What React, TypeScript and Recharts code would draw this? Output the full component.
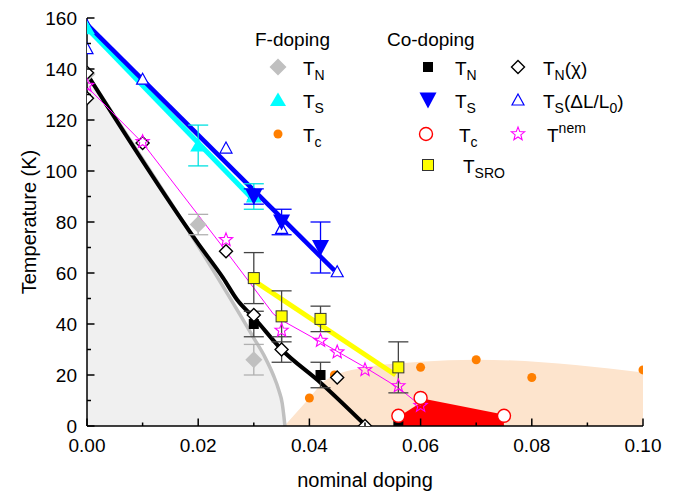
import React from "react";
import { ComposedChart, XAxis, YAxis, Line, Area, Scatter, ErrorBar } from "recharts";

const FONT = "'Liberation Sans', Arial, Helvetica, sans-serif";

const X_TICKS = [0, 0.01, 0.02, 0.03, 0.04, 0.05, 0.06, 0.07, 0.08, 0.09, 0.1];
const Y_TICKS = [0, 10, 20, 30, 40, 50, 60, 70, 80, 90, 100, 110, 120, 130, 140, 150, 160];

// F-doping
const F_TN = [{ x: 0, y: 138, e: 0 }, { x: 0.02, y: 79, e: 4 }, { x: 0.03, y: 26, e: 6 }];
const F_TS = [{ x: 0, y: 156, e: 0 }, { x: 0.02, y: 110, e: 8 }, { x: 0.03, y: 90, e: 5 }];
const F_TC = [
  { x: 0.04, y: 11 }, { x: 0.0445, y: 20 }, { x: 0.06, y: 23 },
  { x: 0.07, y: 26 }, { x: 0.08, y: 19 }, { x: 0.1, y: 22 },
];

// Co-doping
const CO_TN = [{ x: 0.03, y: 40, e: 5 }, { x: 0.042, y: 20, e: 5 }, { x: 0.056, y: 0, e: 0 }];
const CO_TS = [{ x: 0.03, y: 90, e: 3 }, { x: 0.035, y: 80, e: 5 }, { x: 0.042, y: 70, e: 10 }];
const CO_TC = [{ x: 0.056, y: 4 }, { x: 0.06, y: 11 }, { x: 0.075, y: 4 }];
const CO_SRO = [
  { x: 0.03, y: 58, e: 10 }, { x: 0.035, y: 43, e: 10 },
  { x: 0.042, y: 42, e: 5 }, { x: 0.056, y: 23, e: 10 },
];
const CO_CHI = [
  { x: 0, y: 138.5, e: 0 }, { x: 0, y: 128.5, e: 0 }, { x: 0.01, y: 111, e: 0 },
  { x: 0.025, y: 68.5, e: 0 }, { x: 0.03, y: 43.5, e: 0 }, { x: 0.035, y: 30, e: 5 },
  { x: 0.045, y: 19, e: 0 }, { x: 0.05, y: 0, e: 0 },
];
const CO_DL = [
  { x: 0, y: 157 }, { x: 0, y: 148 }, { x: 0.01, y: 136 }, { x: 0.025, y: 109 },
  { x: 0.03, y: 90.5 }, { x: 0.035, y: 77.5 }, { x: 0.045, y: 60.5 },
];
const CO_NEM = [
  { x: 0, y: 133.5 }, { x: 0.01, y: 111.5 }, { x: 0.025, y: 73 }, { x: 0.035, y: 37.5 },
  { x: 0.042, y: 33.5 }, { x: 0.045, y: 29 }, { x: 0.05, y: 22 }, { x: 0.056, y: 15.7 },
  { x: 0.06, y: 8 },
];

// guide lines and shaded regions
const GRAY_LINE = [
  { x: 0, y: 138 }, { x: 0.03, y: 34.5 }, { x: 0.032, y: 27 }, { x: 0.0335, y: 20 },
  { x: 0.0345, y: 14 }, { x: 0.0351, y: 9 }, { x: 0.0354, y: 4 }, { x: 0.0356, y: 0 },
];
const BLACK_LINE = [
  { x: 0, y: 138 }, { x: 0.02, y: 71.5 }, { x: 0.0245, y: 58 }, { x: 0.027, y: 49.5 },
  { x: 0.03, y: 42.5 }, { x: 0.035, y: 30 }, { x: 0.042, y: 17 }, { x: 0.0502, y: 0 },
];
const MAGENTA_LINE = [
  { x: 0, y: 133 }, { x: 0.01, y: 111 }, { x: 0.0245, y: 70 }, { x: 0.0335, y: 44 },
  { x: 0.035, y: 41.5 }, { x: 0.042, y: 33 }, { x: 0.05, y: 23 }, { x: 0.056, y: 15 },
  { x: 0.06, y: 8 },
];
const CYAN_LINE = [{ x: 0, y: 156 }, { x: 0.03, y: 88.5 }];
const BLUE_LINE = [{ x: 0, y: 157.5 }, { x: 0.0445, y: 61 }];
const YELLOW_LINE = [{ x: 0.03, y: 57 }, { x: 0.0555, y: 20 }];
const SC_DOME = [
  { x: 0.0355, y: 0 }, { x: 0.04, y: 11 }, { x: 0.043, y: 18 }, { x: 0.05, y: 23 },
  { x: 0.06, y: 25.2 }, { x: 0.07, y: 26 }, { x: 0.1, y: 21 },
];
const CO_SC = [
  { x: 0.0555, y: 0 }, { x: 0.0556, y: 3 }, { x: 0.061, y: 10.5 },
  { x: 0.0749, y: 4.5 }, { x: 0.075, y: 0 },
];

function Mark({ kind, cx, cy }: { kind: string; cx: number; cy: number }) {
  switch (kind) {
    case "fTN":
      return <polygon points={`${cx},${cy - 8.5} ${cx + 8.5},${cy} ${cx},${cy + 8.5} ${cx - 8.5},${cy}`} fill="#c0c0c0" />;
    case "fTS":
      return <polygon points={`${cx},${cy - 7.5} ${cx + 8},${cy + 6} ${cx - 8},${cy + 6}`} fill="#00ffff" />;
    case "fTc":
      return <circle cx={cx} cy={cy} r={4.5} fill="#ff7f00" />;
    case "cTN":
      return <rect x={cx - 5} y={cy - 5} width={10} height={10} fill="#000" />;
    case "cTS":
      return <polygon points={`${cx - 8.5},${cy - 7.5} ${cx + 8.5},${cy - 7.5} ${cx},${cy + 8.5}`} fill="#0000ff" />;
    case "cTc":
      return <circle cx={cx} cy={cy} r={6.5} fill="#fff" stroke="#ff0000" strokeWidth={1.4} />;
    case "sro":
      return <rect x={cx - 5.5} y={cy - 5.5} width={11} height={11} fill="#ffff00" stroke="#333" strokeWidth={1} />;
    case "chi":
      return <polygon points={`${cx},${cy - 6.5} ${cx + 6.5},${cy} ${cx},${cy + 6.5} ${cx - 6.5},${cy}`} fill="#fff" stroke="#000" strokeWidth={1.4} />;
    case "dl":
      return <polygon points={`${cx},${cy - 6} ${cx + 6},${cy + 5} ${cx - 6},${cy + 5}`} fill="#fff" stroke="#0000ff" strokeWidth={1.2} />;
    case "nem": {
      const pts: string[] = [];
      for (let i = 0; i < 10; i++) {
        const r = i % 2 === 0 ? 7 : 3;
        const a = -Math.PI / 2 + (i * Math.PI) / 5;
        pts.push(`${cx + r * Math.cos(a)},${cy + r * Math.sin(a)}`);
      }
      return <polygon points={pts.join(" ")} fill="none" stroke="#ff00ff" strokeWidth={1.1} />;
    }
    default:
      return null;
  }
}

const shape = (kind: string) => (p: any) => <Mark kind={kind} cx={p.cx} cy={p.cy} />;

const isMajorX = (v: number) => Math.round(v * 100) % 2 === 0;
const isMajorY = (v: number) => Math.round(v) % 20 === 0;

const BottomTick = (p: any) => {
  const v = p.payload.value;
  const major = isMajorX(v);
  return (
    <g>
      <line x1={p.x} x2={p.x} y1={p.y} y2={p.y - (major ? 7.5 : 3.5)} stroke="#000" strokeWidth={1.5} />
      {major && (
        <text x={p.x} y={p.y + 26} textAnchor="middle" fontSize={19} fontFamily={FONT} fill="#000">
          {v.toFixed(2)}
        </text>
      )}
    </g>
  );
};
const TopTick = (p: any) => {
  const major = isMajorX(p.payload.value);
  return <line x1={p.x} x2={p.x} y1={p.y} y2={p.y + (major ? 7.5 : 3.5)} stroke="#000" strokeWidth={1.5} />;
};
const LeftTick = (p: any) => {
  const v = p.payload.value;
  const major = isMajorY(v);
  return (
    <g>
      <line x1={p.x} x2={p.x + (major ? 7.5 : 4)} y1={p.y} y2={p.y} stroke="#000" strokeWidth={1.5} />
      {major && (
        <text x={p.x - 10} y={p.y + 7} textAnchor="end" fontSize={19} fontFamily={FONT} fill="#000">
          {v}
        </text>
      )}
    </g>
  );
};
const RightTick = (p: any) => {
  const major = isMajorY(p.payload.value);
  return <line x1={p.x} x2={p.x - (major ? 7.5 : 4)} y1={p.y} y2={p.y} stroke="#000" strokeWidth={1.5} />;
};

const AXIS_LINE = { stroke: "#000", strokeWidth: 1.5 };

function Legend() {
  const t = { fontSize: 19, fontFamily: FONT, fill: "#000" };
  const sub = 14;
  const row = [67, 100, 134, 165];
  return (
    <svg width={684} height={496} style={{ position: "absolute", left: 0, top: 0, pointerEvents: "none" }}>
      <text x={255} y={46} {...t}>F-doping</text>
      <text x={387} y={46} {...t}>Co-doping</text>

      <Mark kind="fTN" cx={278} cy={row[0]} />
      <Mark kind="fTS" cx={278} cy={row[1]} />
      <Mark kind="fTc" cx={278} cy={row[2]} />
      <text x={303} y={row[0] + 8} {...t}>T<tspan fontSize={sub} dy={5}>N</tspan></text>
      <text x={303} y={row[1] + 8} {...t}>T<tspan fontSize={sub} dy={5}>S</tspan></text>
      <text x={303} y={row[2] + 8} {...t}>T<tspan fontSize={sub} dy={5}>c</tspan></text>

      <Mark kind="cTN" cx={428} cy={row[0]} />
      <Mark kind="cTS" cx={428} cy={row[1]} />
      <Mark kind="cTc" cx={426} cy={row[2]} />
      <Mark kind="sro" cx={428} cy={row[3]} />
      <text x={455} y={row[0] + 8} {...t}>T<tspan fontSize={sub} dy={5}>N</tspan></text>
      <text x={455} y={row[1] + 8} {...t}>T<tspan fontSize={sub} dy={5}>S</tspan></text>
      <text x={459} y={row[2] + 8} {...t}>T<tspan fontSize={sub} dy={5}>c</tspan></text>
      <text x={463} y={row[3] + 8} {...t}>T<tspan fontSize={sub} dy={5}>SRO</tspan></text>

      <Mark kind="chi" cx={518} cy={row[0]} />
      <Mark kind="dl" cx={518} cy={row[1]} />
      <Mark kind="nem" cx={518} cy={row[2]} />
      <text x={543} y={row[0] + 8} {...t}>
        T<tspan fontSize={sub} dy={5}>N</tspan><tspan dy={-5}>(χ)</tspan>
      </text>
      <text x={543} y={row[1] + 8} {...t}>
        T<tspan fontSize={sub} dy={5}>S</tspan><tspan dy={-5}>(ΔL/L</tspan>
        <tspan fontSize={sub} dy={5}>0</tspan><tspan dy={-5}>)</tspan>
      </text>
      <text x={547} y={row[2] + 8} {...t}>
        T<tspan fontSize={sub} dy={-9}>nem</tspan>
      </text>

      <text x={365} y={487} textAnchor="middle" fontSize={20} fontFamily={FONT} fill="#000">nominal doping</text>
      <text
        x={0}
        y={0}
        transform="translate(36,222) rotate(-90)"
        textAnchor="middle"
        fontSize={20}
        fontFamily={FONT}
        fill="#000"
      >
        Temperature (K)
      </text>
    </svg>
  );
}

export default function App() {
  return (
    <div style={{ position: "relative", width: 684, height: 496, background: "#fff" }}>
      <style>{"body{margin:0;}"}</style>
      <ComposedChart width={684} height={496} margin={{ top: 18, right: 41, left: 0, bottom: 0 }}>
        <XAxis
          dataKey="x"
          type="number"
          domain={[0, 0.1]}
          ticks={X_TICKS}
          interval={0}
          height={70}
          tickSize={0}
          tickMargin={0}
          tickLine={false}
          axisLine={AXIS_LINE}
          tick={BottomTick}
          allowDataOverflow
        />
        <XAxis
          xAxisId="top"
          orientation="top"
          dataKey="x"
          type="number"
          domain={[0, 0.1]}
          ticks={X_TICKS}
          interval={0}
          height={0}
          tickSize={0}
          tickMargin={0}
          tickLine={false}
          axisLine={AXIS_LINE}
          tick={TopTick}
        />
        <YAxis
          type="number"
          domain={[0, 160]}
          ticks={Y_TICKS}
          interval={0}
          width={87}
          tickSize={0}
          tickMargin={0}
          tickLine={false}
          axisLine={AXIS_LINE}
          tick={LeftTick}
          allowDataOverflow
        />
        <YAxis
          yAxisId="right"
          orientation="right"
          type="number"
          domain={[0, 160]}
          ticks={Y_TICKS}
          interval={0}
          width={0}
          tickSize={0}
          tickMargin={0}
          tickLine={false}
          axisLine={AXIS_LINE}
          tick={RightTick}
        />

        <Area data={SC_DOME} dataKey="y" type="monotone" fill="#fde4cd" fillOpacity={1} stroke="none" isAnimationActive={false} />
        <Area data={GRAY_LINE} dataKey="y" type="monotone" fill="#f0f0f0" fillOpacity={1} stroke="none" isAnimationActive={false} />
        <Area data={CO_SC} dataKey="y" type="linear" fill="#ff0000" fillOpacity={1} stroke="none" isAnimationActive={false} />

        <Line data={GRAY_LINE} dataKey="y" type="monotone" stroke="#c0c0c0" strokeWidth={3.5} dot={false} isAnimationActive={false} />
        <Line data={BLACK_LINE} dataKey="y" type="monotone" stroke="#000" strokeWidth={4} dot={false} isAnimationActive={false} />
        <Line data={MAGENTA_LINE} dataKey="y" type="linear" stroke="#ff00ff" strokeWidth={1} dot={false} isAnimationActive={false} />
        <Line data={CYAN_LINE} dataKey="y" type="linear" stroke="#00ffff" strokeWidth={5} dot={false} isAnimationActive={false} />
        <Line data={BLUE_LINE} dataKey="y" type="linear" stroke="#0000ff" strokeWidth={4.5} dot={false} isAnimationActive={false} />
        <Line data={YELLOW_LINE} dataKey="y" type="linear" stroke="#ffff00" strokeWidth={5} dot={false} isAnimationActive={false} />

        <Scatter data={F_TC} dataKey="y" shape={shape("fTc")} isAnimationActive={false} />
        <Scatter data={CO_DL} dataKey="y" shape={shape("dl")} isAnimationActive={false} />
        <Scatter data={F_TN} dataKey="y" shape={shape("fTN")} isAnimationActive={false}>
          <ErrorBar dataKey="e" direction="y" width={10} stroke="#b0b0b0" strokeWidth={1.3} />
        </Scatter>
        <Scatter data={F_TS} dataKey="y" shape={shape("fTS")} isAnimationActive={false}>
          <ErrorBar dataKey="e" direction="y" width={10} stroke="#00e0e0" strokeWidth={1.3} />
        </Scatter>
        <Scatter data={CO_TS} dataKey="y" shape={shape("cTS")} isAnimationActive={false}>
          <ErrorBar dataKey="e" direction="y" width={10} stroke="#0000ff" strokeWidth={1.3} />
        </Scatter>
        <Scatter data={CO_TN} dataKey="y" shape={shape("cTN")} isAnimationActive={false}>
          <ErrorBar dataKey="e" direction="y" width={10} stroke="#444" strokeWidth={1.3} />
        </Scatter>
        <Scatter data={CO_SRO} dataKey="y" shape={shape("sro")} isAnimationActive={false}>
          <ErrorBar dataKey="e" direction="y" width={10} stroke="#444" strokeWidth={1.3} />
        </Scatter>
        <Scatter data={CO_CHI} dataKey="y" shape={shape("chi")} isAnimationActive={false}>
          <ErrorBar dataKey="e" direction="y" width={10} stroke="#444" strokeWidth={1.3} />
        </Scatter>
        <Scatter data={CO_NEM} dataKey="y" shape={shape("nem")} isAnimationActive={false} />
        <Scatter data={CO_TC} dataKey="y" shape={shape("cTc")} isAnimationActive={false} />
      </ComposedChart>
      <Legend />
    </div>
  );
}
